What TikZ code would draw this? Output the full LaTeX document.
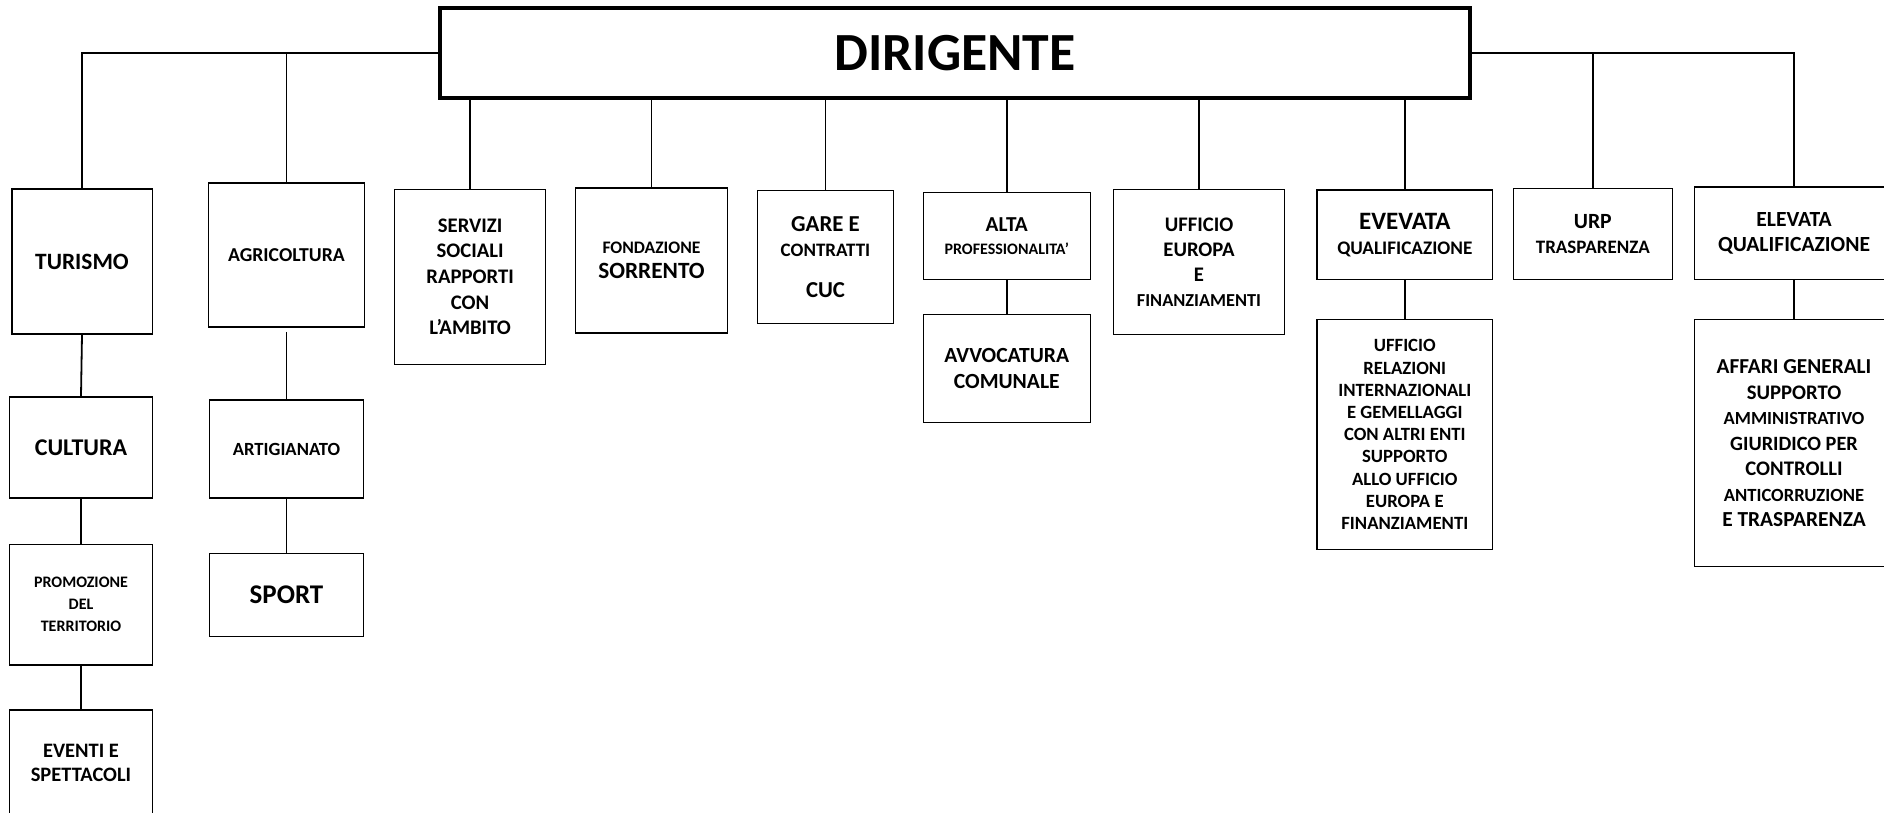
\documentclass[tikz,border=0pt]{standalone}
\usepackage{fontspec}
\setmainfont{Carlito}
\newcommand\myfs[2]{\fontsize{#1}{#2}\selectfont}
\begin{document}
\begin{tikzpicture}[x=1pt,y=-1pt,
  box/.style={draw,line width=1.5pt,inner sep=0pt,align=center},
  fsz/.style 2 args={font=\bfseries\myfs{#1}{#2}},
  link/.style={line width=1.8pt}]
\useasboundingbox (0,0) rectangle (1884,812);
\fill[white] (0,0) rectangle (1884,812);
% top
\node[box,fsz={53.7}{60},line width=4pt,minimum width=1030pt,minimum height=90pt] (dir) at (955,53) {DIRIGENTE};
% column 1
\node[box,fsz={23.4}{28},minimum width=140.5pt,minimum height=145pt] (tur) at (82,261.5) {TURISMO};
\node[box,fsz={24}{28},minimum width=143pt,minimum height=101pt] (cul) at (81,447.5) {CULTURA};
\node[box,fsz={16}{22},minimum width=143pt,minimum height=120.5pt] (pro) at (81,604.7) {PROMOZIONE\\DEL\\TERRITORIO};
\node[box,fsz={20.5}{24.3},minimum width=143pt,minimum height=106pt] (eve) at (81,763) {EVENTI E\\SPETTACOLI};
% column 2
\node[box,fsz={19.7}{24},minimum width=156pt,minimum height=144pt] (agr) at (286.5,255) {AGRICOLTURA};
\node[box,fsz={18.6}{22},minimum width=154pt,minimum height=98pt] (art) at (286.5,449) {ARTIGIANATO};
\node[box,fsz={27}{32},minimum width=154pt,minimum height=83.4pt] (spo) at (286.5,595) {SPORT};
% others
\node[box,fsz={20.7}{25.7},minimum width=151pt,minimum height=175pt] (ser) at (470.1,276.8) {SERVIZI\\SOCIALI\\RAPPORTI\\CON\\L’AMBITO};
\node[box,fsz={23.3}{24.7},minimum width=151.6pt,minimum height=145pt] (fon) at (651.5,260.5) {\myfs{17.6}{24.7}FONDAZIONE\\SORRENTO};
\node[box,fsz={22.8}{25},minimum width=136.4pt,minimum height=132.6pt] (gar) at (825.5,257) {GARE E\\\myfs{19}{25}CONTRATTI\\[16.7pt]CUC};
\node[box,fsz={21.3}{23},minimum width=167pt,minimum height=86.6pt] (alt) at (1006.8,236) {ALTA\\\myfs{16}{23}PROFESSIONALITA’};
\node[box,fsz={21.6}{25.3},minimum width=167pt,minimum height=108.4pt] (avv) at (1006.8,368.5) {AVVOCATURA\\COMUNALE};
\node[box,fsz={20.7}{25},minimum width=170.6pt,minimum height=145pt] (ufe) at (1199,261.8) {UFFICIO\\EUROPA\\E\\\myfs{18.3}{25}FINANZIAMENTI};
\node[box,fsz={25}{25},minimum width=175.7pt,minimum height=89.3pt] (evv) at (1404.8,234.7) {EVEVATA\\\myfs{19.2}{25}QUALIFICAZIONE};
\node[box,fsz={18.7}{22.2},minimum width=175.7pt,minimum height=229.6pt] (ufr) at (1404.8,434.5) {UFFICIO\\RELAZIONI\\INTERNAZIONALI\\E GEMELLAGGI\\CON ALTRI ENTI\\SUPPORTO\\ALLO UFFICIO\\EUROPA E\\FINANZIAMENTI};
\node[box,fsz={21.7}{25},minimum width=159pt,minimum height=90.6pt] (urp) at (1592.8,234) {URP\\\myfs{19}{25}TRASPARENZA};
\node[box,fsz={21.6}{25},minimum width=198.6pt,minimum height=92.3pt] (ele) at (1794,233.2) {ELEVATA\\QUALIFICAZIONE};
\node[box,fsz={20.7}{25.5},minimum width=198.6pt,minimum height=247pt] (aff) at (1794,443.2) {\myfs{21.3}{25.5}AFFARI GENERALI\\SUPPORTO\\\myfs{18.5}{25.5}AMMINISTRATIVO\\\myfs{20.3}{25.5}GIURIDICO PER\\CONTROLLI\\\myfs{18.6}{25.5}ANTICORRUZIONE\\\myfs{21.4}{25.5}E TRASPARENZA};
% connectors from top
\draw[link] (dir.west) -| (tur.north);
\draw[link] (agr.north |- dir.west) -- (agr.north);
\draw[link] (dir.east) -| (ele.north);
\draw[link] (urp.north |- dir.east) -- (urp.north);
\foreach \n in {ser,fon,gar,alt,ufe,evv} \draw[link] (dir.south -| \n.north) -- (\n.north);
% sub connectors
\draw[link] (tur.south) -- (cul.north);
\draw[link] (cul.south) -- (pro.north);
\draw[link] (pro.south) -- (eve.north);
\draw[link,shorten <=4pt] (agr.south) -- (art.north);
\draw[link] (art.south) -- (spo.north);
\draw[link] (alt.south) -- (avv.north);
\draw[link] (evv.south) -- (ufr.north);
\draw[link] (ele.south) -- (aff.north);
\end{tikzpicture}
\end{document}
